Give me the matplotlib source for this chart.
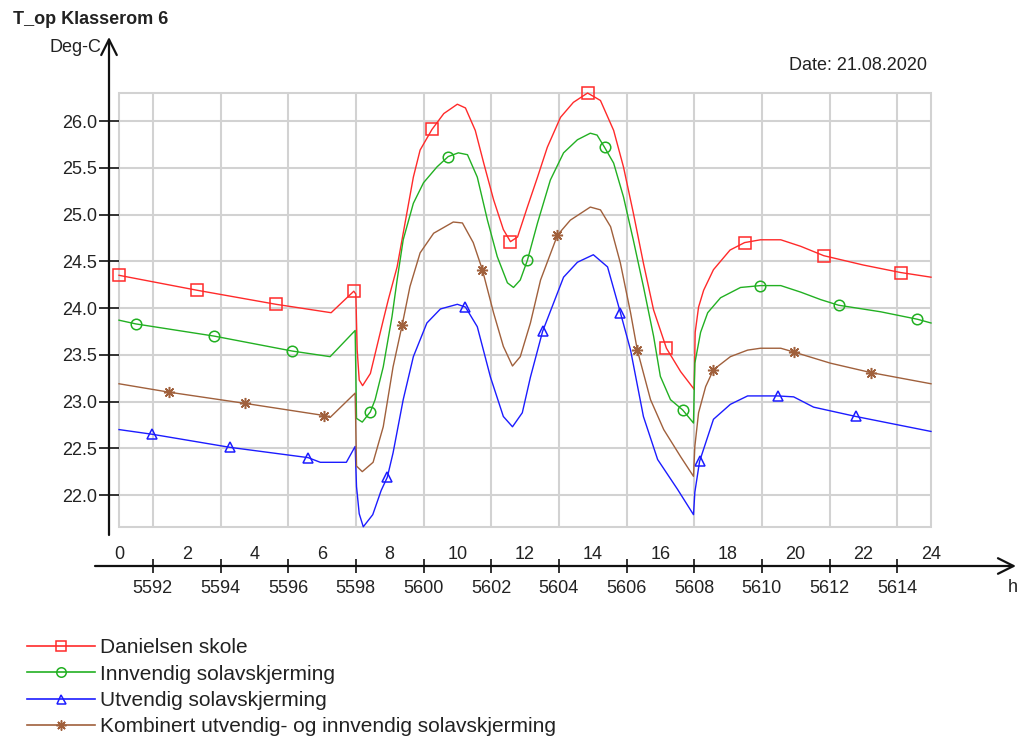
import matplotlib.pyplot as plt
from matplotlib.lines import Line2D

plt.rcParams['font.family'] = ['Liberation Sans', 'DejaVu Sans']

# hour of year at 00:00 on 21.08.2020
H0 = 5591

# Danielsen skole
h_red = [0, 2.31, 4.64, 6.27, 6.94, 7.0, 7.04, 7.1, 7.2, 7.43, 7.81, 7.96, 8.22, 8.7, 8.9,
         9.25, 9.6, 10.0, 10.24, 10.53, 10.78, 11.07, 11.36, 11.57, 11.78, 12.07, 12.37, 12.66,
         13.05, 13.43, 13.85, 14.23, 14.62, 14.91, 15.2, 15.5, 15.8, 16.18, 16.6, 16.98, 17.0,
         17.03, 17.13, 17.28, 17.57, 18.06, 18.49, 18.96, 19.56, 20.15, 20.83, 22.0, 23.1, 24.0]
t_red = [24.35, 24.19, 24.04, 23.95, 24.18, 24.15, 23.55, 23.23, 23.17, 23.30, 23.87, 24.09, 24.44,
         25.40, 25.69, 25.91, 26.08, 26.18, 26.14, 25.90, 25.55, 25.16, 24.84, 24.71, 24.76, 25.08,
         25.40, 25.72, 26.04, 26.20, 26.30, 26.22, 25.90, 25.51, 25.02, 24.48, 23.98, 23.57, 23.32,
         23.14, 23.13, 23.74, 24.01, 24.19, 24.41, 24.62, 24.70, 24.73, 24.73, 24.66, 24.56, 24.46,
         24.38, 24.33]
mk_red = [0, 2.31, 4.64, 6.94, 9.25, 11.57, 13.85, 16.18, 18.49, 20.83, 23.1]

# Innvendig solavskjerming
h_grn = [0, 0.5, 2.81, 5.12, 6.24, 6.98, 7.02, 7.19, 7.43, 7.57, 7.81, 8.07, 8.22, 8.4, 8.7,
         9.0, 9.4, 9.73, 10.03, 10.3, 10.59, 10.89, 11.18, 11.48, 11.66, 11.86, 12.07, 12.37,
         12.75, 13.14, 13.55, 13.93, 14.13, 14.35, 14.62, 14.91, 15.2, 15.5, 15.8, 16.0, 16.3,
         16.66, 16.98, 17.02, 17.19, 17.4, 17.78, 18.37, 18.96, 19.56, 20.15, 20.74, 21.27, 22.51,
         23.6, 24.0]
t_grn = [23.87, 23.83, 23.70, 23.54, 23.48, 23.76, 22.82, 22.78, 22.89, 23.02, 23.37, 23.91, 24.30,
         24.73, 25.12, 25.34, 25.51, 25.62, 25.66, 25.64, 25.40, 24.94, 24.55, 24.27, 24.22, 24.30,
         24.51, 24.91, 25.37, 25.66, 25.80, 25.87, 25.85, 25.72, 25.55, 25.19, 24.73, 24.23, 23.70,
         23.27, 23.02, 22.91, 22.77, 23.41, 23.74, 23.95, 24.11, 24.22, 24.24, 24.24, 24.17, 24.09,
         24.03, 23.96, 23.88, 23.84]
mk_grn = [0.5, 2.81, 5.12, 7.43, 9.73, 12.07, 14.35, 16.66, 18.96, 21.27, 23.6]

# Utvendig solavskjerming
h_blu = [0, 0.98, 3.28, 5.59, 5.95, 6.72, 6.98, 7.02, 7.1, 7.22, 7.5, 7.75, 7.93, 8.1, 8.4,
         8.7, 9.1, 9.5, 10.0, 10.24, 10.59, 10.98, 11.36, 11.63, 11.92, 12.16, 12.52, 13.14, 13.55,
         14.02, 14.44, 14.82, 15.12, 15.5, 15.92, 16.51, 16.98, 17.02, 17.16, 17.57, 18.07, 18.58,
         19.47, 19.94, 20.53, 21.78, 24.0]
t_blu = [22.70, 22.65, 22.51, 22.40, 22.35, 22.35, 22.52, 22.09, 21.80, 21.66, 21.79, 22.05, 22.19,
         22.45, 23.02, 23.48, 23.84, 23.99, 24.04, 24.01, 23.80, 23.26, 22.84, 22.73, 22.88, 23.26,
         23.75, 24.33, 24.49, 24.57, 24.44, 23.95, 23.55, 22.84, 22.38, 22.06, 21.79, 22.03, 22.36,
         22.81, 22.97, 23.06, 23.06, 23.05, 22.94, 22.84, 22.68]
mk_blu = [0.98, 3.28, 5.59, 7.93, 10.24, 12.52, 14.82, 17.16, 19.47, 21.78]

# Kombinert utvendig- og innvendig solavskjerming
h_brn = [0, 1.48, 3.73, 6.07, 6.24, 6.98, 7.02, 7.19, 7.51, 7.81, 8.1, 8.37, 8.6, 8.9, 9.3,
         9.88, 10.15, 10.47, 10.74, 11.07, 11.36, 11.63, 11.86, 12.16, 12.46, 12.96, 13.34, 13.93,
         14.23, 14.53, 14.82, 15.12, 15.32, 15.71, 16.1, 16.6, 16.98, 17.02, 17.13, 17.34, 17.57,
         18.07, 18.58, 18.96, 19.56, 19.94, 21.03, 22.22, 24.0]
t_brn = [23.19, 23.10, 22.98, 22.85, 22.83, 23.09, 22.31, 22.25, 22.35, 22.73, 23.37, 23.82, 24.23,
         24.59, 24.80, 24.92, 24.91, 24.70, 24.41, 23.95, 23.59, 23.38, 23.48, 23.84, 24.30, 24.78,
         24.94, 25.08, 25.05, 24.87, 24.48, 23.95, 23.55, 23.02, 22.70, 22.41, 22.20, 22.52, 22.88,
         23.16, 23.34, 23.48, 23.55, 23.57, 23.57, 23.53, 23.41, 23.31, 23.19]
mk_brn = [1.48, 3.73, 6.07, 8.37, 10.74, 12.96, 15.32, 17.57, 19.94, 22.22]

labels = ['Danielsen skole', 'Innvendig solavskjerming', 'Utvendig solavskjerming',
          'Kombinert utvendig- og innvendig solavskjerming']
y_ticks = [22.0, 22.5, 23.0, 23.5, 24.0, 24.5, 25.0, 25.5, 26.0]
hour_ticks = list(range(0, 25, 2))

series = [
    (h_red, t_red, mk_red, '#ff2a2a', 's', 8.0),
    (h_grn, t_grn, mk_grn, '#22b022', 'o', 7.6),
    (h_blu, t_blu, mk_blu, '#1c1cff', '^', 7.2),
    (h_brn, t_brn, mk_brn, '#a0603c', (8, 2, 0), 8.0),
]

txt = '#222222'
grid_c = '#d2d2d2'

fig = plt.figure(figsize=(10.19, 7.38), dpi=100)
ax = fig.add_axes([119 / 1019, 1 - 527 / 738, 812 / 1019, 434 / 738])

for h, t, mk, c, m, ms in series:
    x = [H0 + v for v in h]
    ax.plot(x, t, color=c, lw=1.0, marker=m, ms=ms, mfc='none', mec=c, mew=1.1,
            markevery=[h.index(v) for v in mk], clip_on=False, zorder=3)

ax.set_xlim(H0, H0 + 24)
ax.set_ylim(21.658, 26.30)

for s in ax.spines.values():
    s.set_visible(False)
ax.patch.set_edgecolor(grid_c)
ax.patch.set_linewidth(1.5)
ax.spines['left'].set_position(('outward', 7.2))
ax.spines['bottom'].set_position(('outward', 28.1))

ax.set_yticks(y_ticks, [f'{v:.1f}' for v in y_ticks])
ax.set_xticks(range(H0 + 1, H0 + 24, 2))
ax.tick_params(axis='y', direction='inout', length=13.7, width=1.2, color='#111111',
               pad=1.5, labelsize=13, labelcolor=txt)
ax.tick_params(axis='x', direction='inout', length=9.4, width=1.2, color='#111111',
               pad=5.5, labelsize=13, labelcolor=txt)
ax.grid(True, color=grid_c, lw=1.5)
ax.set_axisbelow(True)

# hour-of-day labels above the time axis
sec = ax.secondary_xaxis(-39 / 434, functions=(lambda x: x - H0, lambda v: v + H0))
sec.set_xticks(hour_ticks)
sec.tick_params(axis='x', length=0, top=False, bottom=False, labeltop=True,
                labelbottom=False, pad=2.5, labelsize=13, labelcolor=txt)
for s in sec.spines.values():
    s.set_visible(False)

# axis lines with arrows
arrow = dict(arrowstyle='->, head_length=0.8, head_width=0.4', lw=1.6, color='#111111',
             mutation_scale=14, shrinkA=0, shrinkB=0)
ax.annotate('', xy=(109, 738 - 37), xytext=(109, 738 - 535), xycoords='figure pixels',
            textcoords='figure pixels', arrowprops=arrow, annotation_clip=False)
ax.annotate('', xy=(1016, 738 - 566), xytext=(95, 738 - 566), xycoords='figure pixels',
            textcoords='figure pixels', arrowprops=arrow, annotation_clip=False)

fig.text(13 / 1019, 1 - 20 / 738, 'T_op Klasserom 6', fontsize=13, fontweight='bold',
         color=txt, va='center')
fig.text(101 / 1019, 1 - 48 / 738, 'Deg-C', fontsize=13, color=txt, ha='right', va='center')
fig.text(927 / 1019, 1 - 66 / 738, 'Date: 21.08.2020', fontsize=13, color=txt,
         ha='right', va='center')
fig.text(1013 / 1019, 1 - 587 / 738, 'h', fontsize=13, color=txt, ha='center', va='center')

handles = [Line2D([], [], color=c, lw=1.2, marker=m, ms=ms * 0.9, mfc='none', mec=c, mew=1.1)
           for _, _, _, c, m, ms in series]
fig.legend(handles, labels, loc='upper left', bbox_to_anchor=(27 / 1019, 1 - 638 / 738),
           frameon=False, fontsize=15, handlelength=3.27, handletextpad=0.24,
           labelspacing=0.36, borderpad=0, borderaxespad=0, labelcolor=txt)

fig.savefig('out.png', dpi=100)
